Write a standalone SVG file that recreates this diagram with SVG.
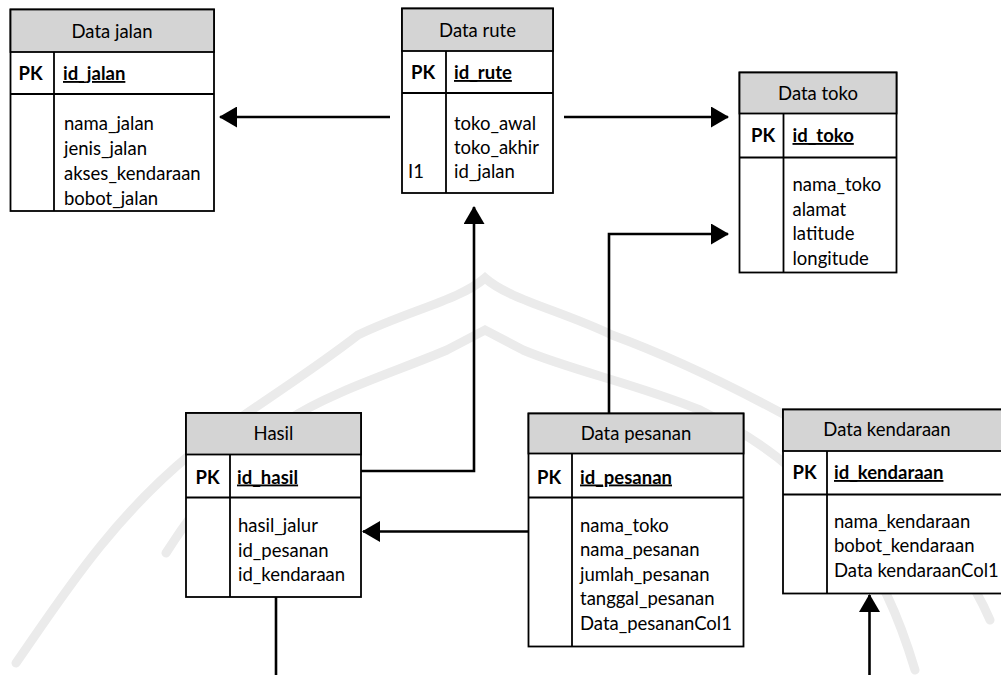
<svg xmlns="http://www.w3.org/2000/svg" width="1001" height="675" viewBox="0 0 1001 675">
<style>
.box{fill:#fff;stroke:#000;stroke-width:1.8}
.hdr{fill:#d4d4d4;stroke:#000;stroke-width:1.8}
.ln{stroke:#000;stroke-width:1.8;fill:none}
.t{font-family:Lato,"Liberation Sans",sans-serif;font-size:18.5px;fill:#000}
.c{text-anchor:middle}
.b{font-weight:bold}
.u{text-decoration:underline}
.con{stroke:#000;stroke-width:2.6;fill:none}
.wm{stroke:#ebebeb;stroke-width:9;fill:none;stroke-linecap:round}
</style>
<defs>
<marker id="ah" viewBox="0 0 18 21" refX="17" refY="10.5" markerWidth="18" markerHeight="21" orient="auto" markerUnits="userSpaceOnUse">
<path d="M0,0 L18,10.5 L0,21 z" fill="#000"/>
</marker>
</defs>
<rect width="1001" height="675" fill="#fff"/>
<g id="watermark">
<path class="wm" d="M16,663 C60,600 110,520 192,453 C240,415 300,380 358,335 C410,310 460,300 485,278 C510,300 560,310 612,335 C680,360 760,400 830,440 C900,490 960,550 990,620"/>
<path class="wm" d="M166,553 C200,500 240,450 288,420 C330,392 400,370 447,350 L485,330 L523,350 C570,370 640,385 700,410 C760,440 800,470 840,520 C880,570 900,620 915,670"/>
</g>
<g id="connectors">
<path class="con" d="M390,117 H220" marker-end="url(#ah)"/>
<path class="con" d="M564,117 H728" marker-end="url(#ah)"/>
<path class="con" d="M361,471 H474 V207" marker-end="url(#ah)"/>
<path class="con" d="M609,413 V234 H728" marker-end="url(#ah)"/>
<path class="con" d="M528,531.5 H363" marker-end="url(#ah)"/>
<path class="con" d="M276,591 V675"/>
<path class="con" d="M869.5,675 V595" marker-end="url(#ah)"/>
</g>
<g id="data-jalan">
<rect class="box" x="10.5" y="9.5" width="203.5" height="201.5"/>
<rect class="hdr" x="10.5" y="9.5" width="203.5" height="42.5"/>
<line class="ln" x1="10.5" y1="94" x2="214" y2="94"/>
<line class="ln" x1="54" y1="52" x2="54" y2="211"/>
<text class="t c" x="112" y="38">Data jalan</text>
<text class="t b" x="18.5" y="80">PK</text>
<text class="t b u" x="63" y="80">id_jalan</text>
<text class="t" x="64" y="129.5">nama_jalan</text>
<text class="t" x="64" y="154.5">jenis_jalan</text>
<text class="t" x="64" y="179.5">akses_kendaraan</text>
<text class="t" x="64" y="204.5">bobot_jalan</text>
</g>
<g id="data-rute">
<rect class="box" x="402" y="8.5" width="151" height="184.5"/>
<rect class="hdr" x="402" y="8.5" width="151" height="42.5"/>
<line class="ln" x1="402" y1="93" x2="553" y2="93"/>
<line class="ln" x1="446" y1="51" x2="446" y2="193"/>
<text class="t c" x="477.5" y="37">Data rute</text>
<text class="t b" x="411" y="79">PK</text>
<text class="t b u" x="454" y="79">id_rute</text>
<text class="t" x="454" y="129.5">toko_awal</text>
<text class="t" x="454" y="153.5">toko_akhir</text>
<text class="t" x="408" y="177.5">I1</text>
<text class="t" x="454" y="177.5">id_jalan</text>
</g>
<g id="data-toko">
<rect class="box" x="739.5" y="72.5" width="157" height="200"/>
<rect class="hdr" x="739.5" y="72.5" width="157" height="41"/>
<line class="ln" x1="739.5" y1="157.5" x2="896.5" y2="157.5"/>
<line class="ln" x1="783.5" y1="113.5" x2="783.5" y2="272.5"/>
<text class="t c" x="818" y="99.5">Data toko</text>
<text class="t b" x="751" y="142">PK</text>
<text class="t b u" x="792.5" y="142">id_toko</text>
<text class="t" x="792.5" y="191">nama_toko</text>
<text class="t" x="792.5" y="215.5">alamat</text>
<text class="t" x="792.5" y="240">latitude</text>
<text class="t" x="792.5" y="264.5">longitude</text>
</g>
<g id="hasil">
<rect class="box" x="186" y="413" width="175" height="184"/>
<rect class="hdr" x="186" y="413" width="175" height="41.5"/>
<line class="ln" x1="186" y1="497.5" x2="361" y2="497.5"/>
<line class="ln" x1="230" y1="454.5" x2="230" y2="597"/>
<text class="t c" x="273.5" y="440">Hasil</text>
<text class="t b" x="195.5" y="483.5">PK</text>
<text class="t b u" x="237" y="483.5">id_hasil</text>
<text class="t" x="238" y="532">hasil_jalur</text>
<text class="t" x="238" y="556.5">id_pesanan</text>
<text class="t" x="238" y="581">id_kendaraan</text>
</g>
<g id="data-pesanan">
<rect class="box" x="528.5" y="413.5" width="215" height="233"/>
<rect class="hdr" x="528.5" y="413.5" width="215" height="40"/>
<line class="ln" x1="528.5" y1="497.5" x2="743.5" y2="497.5"/>
<line class="ln" x1="572" y1="453.5" x2="572" y2="646.5"/>
<text class="t c" x="636" y="440">Data pesanan</text>
<text class="t b" x="537" y="483.5">PK</text>
<text class="t b u" x="580" y="483.5">id_pesanan</text>
<text class="t" x="580" y="531.5">nama_toko</text>
<text class="t" x="580" y="556">nama_pesanan</text>
<text class="t" x="580" y="580.5">jumlah_pesanan</text>
<text class="t" x="580" y="605">tanggal_pesanan</text>
<text class="t" x="580" y="629.5">Data_pesananCol1</text>
</g>
<g id="data-kendaraan">
<rect class="box" x="783" y="409.5" width="230" height="184"/>
<rect class="hdr" x="783" y="409.5" width="230" height="41.5"/>
<line class="ln" x1="783" y1="494.5" x2="1013" y2="494.5"/>
<line class="ln" x1="827" y1="451" x2="827" y2="593.5"/>
<text class="t c" x="887" y="436">Data kendaraan</text>
<text class="t b" x="792.5" y="479">PK</text>
<text class="t b u" x="834" y="479">id_kendaraan</text>
<text class="t" x="834" y="527.5">nama_kendaraan</text>
<text class="t" x="834" y="552">bobot_kendaraan</text>
<text class="t" x="834" y="576.5">Data kendaraanCol1</text>
</g>
</svg>
